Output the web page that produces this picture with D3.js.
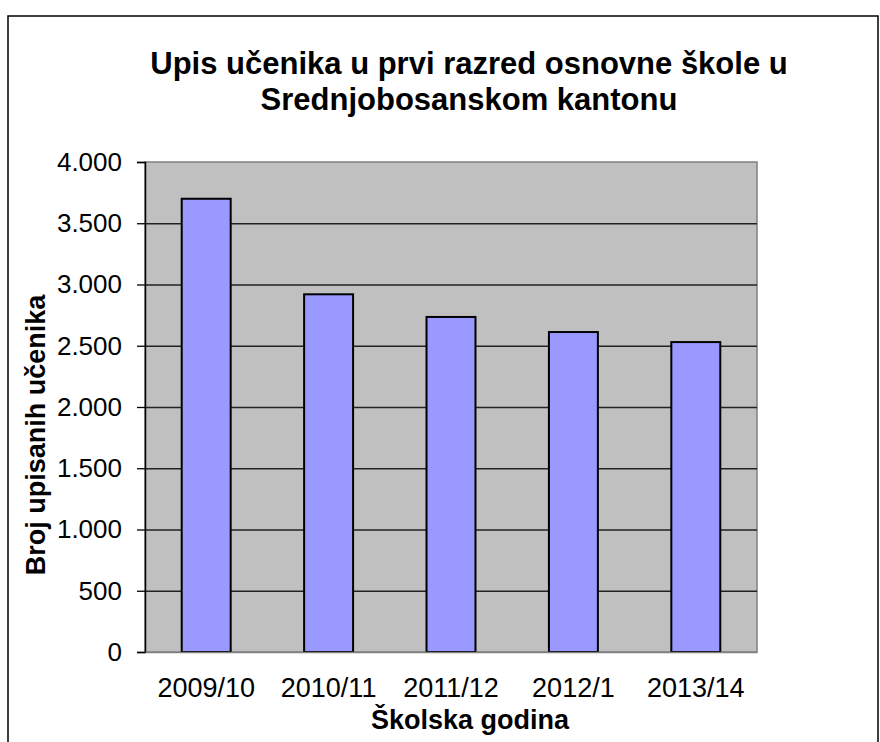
<!DOCTYPE html>
<html>
<head>
<meta charset="utf-8">
<script src="https://cdn.jsdelivr.net/npm/d3@7"></script>
<style>
  body { margin: 0; background: #fff; }
  text { font-family: "Liberation Sans", Arial, sans-serif; fill: #000; }
</style>
</head>
<body>
<div id="chart"></div>
<script>
const years = ["2009/10", "2010/11", "2011/12", "2012/1", "2013/14"];
const pupils = [3700, 2920, 2735, 2612, 2530];
const yTicks = [0, 500, 1000, 1500, 2000, 2500, 3000, 3500, 4000];
const titleLines = ["Upis učenika u prvi razred osnovne škole u", "Srednjobosanskom kantonu"];

const W = 880, H = 742;
const plot = { left: 145, top: 162, right: 757, bottom: 652 };

const svg = d3.select("#chart")
  .append("svg")
  .attr("width", W)
  .attr("height", H);

// chart area border (runs past the bottom edge)
svg.append("rect")
  .attr("x", 8).attr("y", 16)
  .attr("width", 870).attr("height", 760)
  .attr("fill", "#fff")
  .attr("stroke", "#000")
  .attr("stroke-width", 1.5);

const x = d3.scaleBand().domain(years).range([plot.left, plot.right]).paddingInner(0.6).paddingOuter(0.3);
const y = d3.scaleLinear().domain([0, 4000]).range([plot.bottom, plot.top]);

// plot background
svg.append("rect")
  .attr("x", plot.left).attr("y", plot.top)
  .attr("width", plot.right - plot.left).attr("height", plot.bottom - plot.top)
  .attr("fill", "#c0c0c0")
  .attr("stroke", "#808080")
  .attr("stroke-width", 1.5);

// gridlines
svg.append("g")
  .selectAll("line")
  .data(yTicks.filter(d => d > 0 && d < 4000))
  .enter()
  .append("line")
  .attr("x1", plot.left).attr("x2", plot.right)
  .attr("y1", d => y(d) + 0.5).attr("y2", d => y(d) + 0.5)
  .attr("stroke", "#222")
  .attr("stroke-width", 1.3);

// bars
svg.selectAll(".bar")
  .data(years.map((d, i) => ({ year: d, value: pupils[i] })))
  .enter()
  .append("rect")
  .attr("class", "bar")
  .attr("x", d => x(d.year))
  .attr("y", d => y(d.value))
  .attr("width", x.bandwidth())
  .attr("height", d => y(0) - y(d.value))
  .attr("fill", "#9999ff")
  .attr("stroke", "#000")
  .attr("stroke-width", 2);

// y axis
const yAxis = svg.append("g")
  .attr("transform", `translate(${plot.left},0)`)
  .call(d3.axisLeft(y).tickValues(yTicks).tickSize(8).tickPadding(15)
    .tickFormat(d => d3.format(",")(d).replace(/,/g, ".")));
yAxis.select(".domain").attr("stroke", "#000").attr("stroke-width", 1.5);
yAxis.selectAll(".tick line").attr("stroke", "#000").attr("stroke-width", 1.3);
yAxis.selectAll(".tick text")
  .style("font-family", "'Liberation Sans', Arial, sans-serif")
  .style("font-size", "26px")
  .attr("fill", "#000");

// x axis labels
const xAxis = svg.append("g")
  .attr("transform", `translate(0,${plot.bottom})`)
  .call(d3.axisBottom(x).tickSize(0).tickPadding(26));
xAxis.select(".domain").attr("stroke", "#808080").attr("stroke-width", 1.5);
xAxis.selectAll(".tick text")
  .style("font-family", "'Liberation Sans', Arial, sans-serif")
  .style("font-size", "27px")
  .attr("fill", "#000");

// title
svg.append("text")
  .attr("x", 469)
  .attr("y", 74)
  .style("text-anchor", "middle")
  .style("font-size", "31px")
  .style("font-weight", "bold")
  .selectAll("tspan")
  .data(titleLines)
  .enter()
  .append("tspan")
  .attr("x", 469)
  .attr("dy", (d, i) => i === 0 ? 0 : 36)
  .text(d => d);

// axis titles
svg.append("text")
  .attr("transform", "rotate(-90)")
  .attr("x", -435)
  .attr("y", 45)
  .style("text-anchor", "middle")
  .style("font-size", "27px")
  .style("font-weight", "bold")
  .text("Broj upisanih učenika");

svg.append("text")
  .attr("x", 470)
  .attr("y", 729)
  .style("text-anchor", "middle")
  .style("font-size", "27px")
  .style("font-weight", "bold")
  .text("Školska godina");
</script>
</body>
</html>
